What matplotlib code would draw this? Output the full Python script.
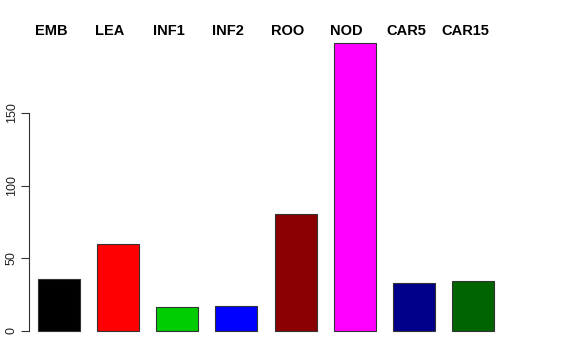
import matplotlib
matplotlib.use('Agg')

import matplotlib.pyplot as plt

# ------------------------------------------------------------
# Datos
# ------------------------------------------------------------
categorias = ["EMB", "LEA", "INF1", "INF2", "ROO", "NOD", "CAR5", "CAR15"]
valores = [35.7, 59.6, 16.8, 17.2, 80.2, 197.7, 33.2, 34.6]
colores = ["#000000", "#FF0000", "#00CD00", "#0000FF",
           "#8B0000", "#FF00FF", "#00008B", "#006400"]
ticks_y = [0, 50, 100, 150]

W, H = 576, 360
fig = plt.figure(figsize=(W / 100, H / 100), dpi=100)

# escala en pixeles: paso entre barras 59 px, ancho de barra 42 px
x0_px, unidad_px = 28.1, 49.29
y0_px, escala_y = 331, 1.455
xmax, ymax = 9.8, 200
ancho = 42 / unidad_px
ax = fig.add_axes([x0_px / W, (H - y0_px) / H,
                   xmax * unidad_px / W, ymax * escala_y / H])

centros = [0.2 + ancho / 2 + 1.2 * i for i in range(len(categorias))]
ax.bar(centros, valores, width=ancho, color=colores,
       edgecolor="#333333", linewidth=0.8, clip_on=False)

ax.set_xlim(0, xmax)
ax.set_ylim(0, ymax)

for s in ["top", "right", "bottom"]:
    ax.spines[s].set_visible(False)
ax.spines["left"].set_bounds(0, 150)
ax.spines["left"].set_position(("data", 0.02))
ax.spines["left"].set_color("#333333")
ax.spines["left"].set_linewidth(0.8)

ax.set_xticks([])
ax.set_yticks(ticks_y)
ax.set_yticklabels([str(t) for t in ticks_y], rotation=90, va="center",
                   fontsize=9, family="Liberation Sans", color="#222222")
ax.tick_params(axis="y", length=6, width=0.8, color="#333333", pad=2)

# etiquetas arriba de cada barra (algo corridas a la izquierda)
desplaz = -8 / unidad_px
for xc, nombre in zip(centros, categorias):
    ax.text(xc + desplaz, 206.5, nombre, ha="center", va="center",
            fontsize=10.5, fontweight="bold", family="Liberation Sans",
            clip_on=False)

fig.savefig("out.png", dpi=100)
plt.close(fig)
